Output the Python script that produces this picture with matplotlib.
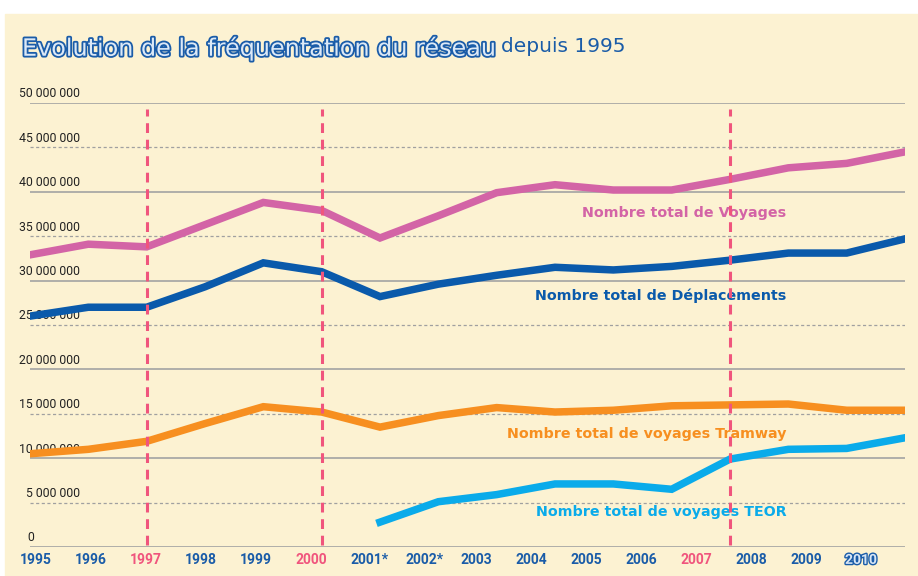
import matplotlib
matplotlib.use("Agg")
import matplotlib.pyplot as plt
import matplotlib.patheffects as pe
from matplotlib.patches import Rectangle

# ---------------------------------------------------------------
#  Données
# ---------------------------------------------------------------
years = ["1995", "1996", "1997", "1998", "1999", "2000", "2001*", "2002*",
         "2003", "2004", "2005", "2006", "2007", "2008", "2009", "2010"]
highlight_years = ["1997", "2000", "2007"]

voyages = [32.9, 34.1, 33.8, 36.3, 38.8, 37.9, 34.8, 37.3,
           39.9, 40.8, 40.2, 40.2, 41.4, 42.7, 43.2, 44.5]
deplacements = [26.0, 27.0, 27.0, 29.3, 32.0, 31.0, 28.2, 29.6,
                30.6, 31.5, 31.2, 31.6, 32.3, 33.1, 33.1, 34.7]
tramway = [10.5, 11.0, 11.9, 13.9, 15.8, 15.2, 13.5, 14.8,
           15.7, 15.2, 15.4, 15.9, 16.0, 16.1, 15.4, 15.4]
teor_years = ["2001*", "2002*", "2003", "2004", "2005", "2006",
              "2007", "2008", "2009", "2010"]
teor = [2.8, 5.1, 5.9, 7.1, 7.1, 6.5, 9.9, 11.0, 11.1, 12.3]

y_ticks = [0, 5, 10, 15, 20, 25, 30, 35, 40, 45, 50]   # millions

BLUE = "#1a5ca8"
PINK_V = "#d364a6"
NAVY = "#0a5aab"
ORANGE = "#f78f20"
CYAN = "#0aabea"
RED = "#f0557d"
CREAM = "#fcf2d2"


def fmt_fr(v):
    return f"{int(v * 1e6):,}".replace(",", " ")


fig = plt.figure(figsize=(9.18, 5.76), dpi=100, facecolor="white")
fig.patches.append(Rectangle((5 / 918, 0), 1, 1 - 14 / 576,
                             transform=fig.transFigure, color=CREAM, zorder=-10))

ax = fig.add_axes([30 / 918, 1 - 547 / 576, 875 / 918, 444 / 576])
ax.set_zorder(2)
ax.set_facecolor("none")
for s in ax.spines.values():
    s.set_visible(False)
ax.set_xticks([])
ax.set_yticks([])
ax.set_xlim(0, len(years) - 1)
ax.set_ylim(0, 50)

narrow = ["Roboto", "DejaVu Sans"]

# grille horizontale + libellés de l'axe y
for v in y_ticks:
    if v % 10 == 0:
        ax.axhline(v, color="#a3a3a3", lw=1.2, zorder=1)
    else:
        ax.axhline(v, color="#a0a0a0", lw=0.9, ls=(0, (2.5, 2)), zorder=1)
    lab = fmt_fr(v)
    if v == 0:
        ax.text(-3 / 875, v + 0.3, lab, transform=ax.get_yaxis_transform(),
                ha="left", va="bottom", fontsize=8.8, family=narrow, color="#222222")
    else:
        ax.text(50 / 875, v + 0.3, lab, transform=ax.get_yaxis_transform(),
                ha="right", va="bottom", fontsize=8.8, family=narrow, color="#222222")

x = list(range(len(years)))
xt = [years.index(y) for y in teor_years]

ax.plot(x, voyages, color=PINK_V, lw=5.4, solid_joinstyle="miter", zorder=3)
ax.plot(x, deplacements, color=NAVY, lw=5.4, solid_joinstyle="miter", zorder=3)
ax.plot(x, tramway, color=ORANGE, lw=5.4, solid_joinstyle="miter", zorder=3)
ax.plot(xt, teor, color=CYAN, lw=5.4, solid_joinstyle="miter", zorder=3)

# lignes verticales pointillées
for y in highlight_years:
    ax.plot([years.index(y)] * 2, [0.2, 49.3], color=RED, lw=2.2,
            ls=(0, (3.2, 2.2)), zorder=5)

# étiquettes des années
for i, y in enumerate(years):
    xpos = i * 55 / 58.33 - 10 / 58.33
    col = RED if y in highlight_years else BLUE
    t = ax.text(xpos, -1.45, y, ha="left", va="center", fontsize=10,
                family=narrow, color=col, fontweight="bold", clip_on=False)
    if y == "2010":
        t.set_color("#d8e6f5")
        t.set_path_effects([pe.Stroke(linewidth=2, foreground=BLUE), pe.Normal()])

# libellés des séries
lab_kw = dict(ha="right", va="center", fontsize=10.3, fontweight="bold",
              family=["DejaVu Sans"])
ax.text(12.97, 37.6, "Nombre total de Voyages", color=PINK_V, **lab_kw)
ax.text(12.97, 28.3, "Nombre total de Déplacements", color=NAVY, **lab_kw)
ax.text(12.97, 12.7, "Nombre total de voyages Tramway", color=ORANGE, **lab_kw)
ax.text(12.97, 3.9, "Nombre total de voyages TEOR", color=CYAN, **lab_kw)

# titre
t1 = fig.text(22 / 918, 1 - 48 / 576, "Evolution de la fréquentation du réseau",
              ha="left", va="center", fontsize=17.2, color="#dce9f7",
              family=["DejaVu Sans"])
t1.set_path_effects([pe.Stroke(linewidth=2.6, foreground=BLUE), pe.Normal()])
fig.canvas.draw()
bb = t1.get_window_extent()
fig.text(bb.x1 / 918 + 6 / 918, 1 - 47 / 576, "depuis 1995", ha="left",
         va="center", fontsize=14.5, color=BLUE, family=["DejaVu Sans"])

fig.savefig("out.png", dpi=100, facecolor="white")
